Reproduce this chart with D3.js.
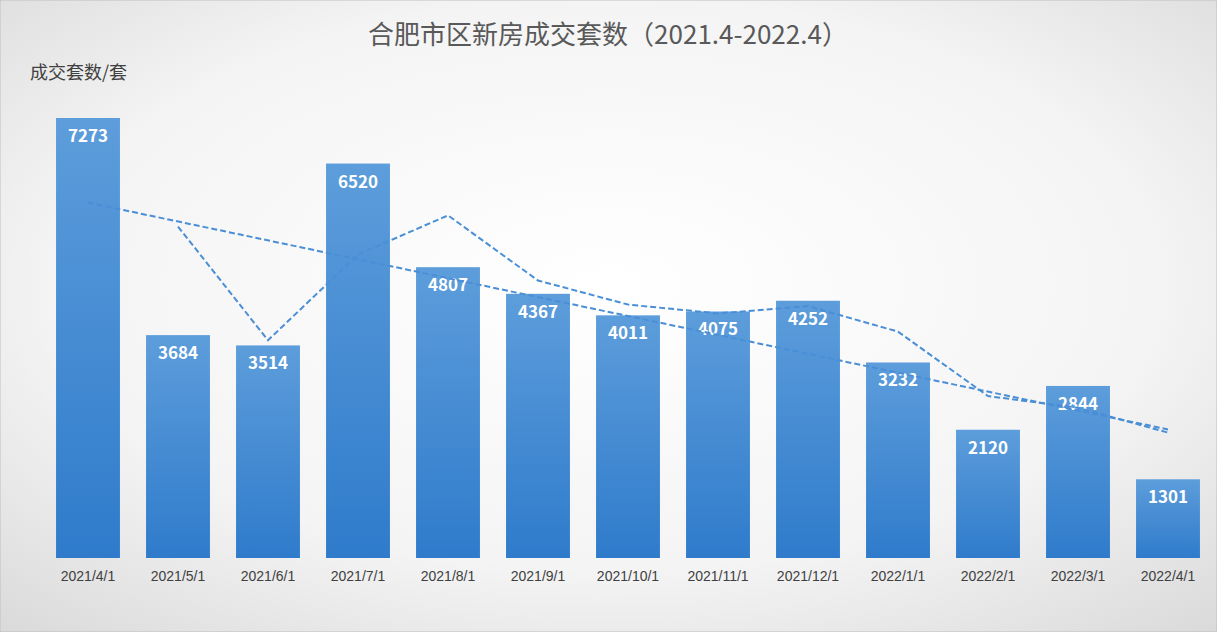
<!DOCTYPE html>
<html><head><meta charset="utf-8">
<script src="https://cdn.jsdelivr.net/npm/d3@7"></script>
<style>body{margin:0;}svg{display:block;font-family:"Noto Sans CJK SC","Noto Sans",sans-serif;}</style>
</head><body><svg id="c" width="1217" height="632"></svg>
<script>
var months = ["2021/4/1","2021/5/1","2021/6/1","2021/7/1","2021/8/1","2021/9/1","2021/10/1","2021/11/1","2021/12/1","2022/1/1","2022/2/1","2022/3/1","2022/4/1"];
var deals = [7273,3684,3514,6520,4807,4367,4011,4075,4252,3232,2120,2844,1301];

var svg = d3.select("#c");
var defs = svg.append("defs");
var bg = defs.append("radialGradient").attr("id","bg").attr("cx","50%").attr("cy","45%").attr("r","75%");
bg.append("stop").attr("offset","0%").attr("stop-color","#ffffff");
bg.append("stop").attr("offset","60%").attr("stop-color","#f4f4f4");
bg.append("stop").attr("offset","100%").attr("stop-color","#d9d9d9");
var bar = defs.append("linearGradient").attr("id","bar").attr("x1",0).attr("y1",0).attr("x2",0).attr("y2",1);
bar.append("stop").attr("offset","0%").attr("stop-color","#5d9ddb");
bar.append("stop").attr("offset","100%").attr("stop-color","#2f7bcb");

svg.append("rect").attr("width",1217).attr("height",632).attr("fill","url(#bg)").attr("stroke","#bfbfbf");

var x = d3.scaleBand().domain(months).range([43,1213]).paddingInner(0.29).paddingOuter(0.145);
var y = d3.scaleLinear().domain([0,7273]).range([558,118]);

svg.append("text").attr("x",608).attr("y",44).attr("text-anchor","middle").attr("font-size",26).attr("fill","#595959").text("合肥市区新房成交套数（2021.4-2022.4）");
svg.append("text").attr("x",30).attr("y",79).attr("font-size",18).attr("fill","#404040").text("成交套数/套");

svg.selectAll("rect.b").data(deals).enter().append("rect").attr("class","b")
  .attr("x",function(d,i){return x(months[i]);}).attr("width",x.bandwidth())
  .attr("y",function(d){return y(d);}).attr("height",function(d){return y(0)-y(d);})
  .attr("fill","url(#bar)");

svg.selectAll("text.v").data(deals).enter().append("text").attr("class","v")
  .attr("x",function(d,i){return x(months[i])+x.bandwidth()/2;}).attr("y",function(d){return y(d)+24;})
  .attr("text-anchor","middle").attr("font-size",17).attr("font-weight","bold").attr("fill","#fff").text(function(d){return d;});

var xa = svg.append("g").attr("transform","translate(0,558)").call(d3.axisBottom(x).tickSize(0).tickPadding(13));
xa.select(".domain").remove();
xa.selectAll("text").attr("font-size",14).attr("fill","#404040").attr("font-family","Liberation Sans, Arial, sans-serif");

var cx = function(i){return x(months[i])+x.bandwidth()/2;};
// 2-period moving average
var ma = deals.map(function(d,i){return i? [i,(d+deals[i-1])/2] : null;}).filter(Boolean);
svg.append("path").datum(ma).attr("fill","none").attr("stroke","#4a8fd6").attr("stroke-width",2).attr("stroke-dasharray","6,3")
  .attr("d",d3.line().x(function(p){return cx(p[0]);}).y(function(p){return y(p[1]);}));
// linear trend
var n = deals.length, mx=(n-1)/2, my=d3.mean(deals), sxy=0, sxx=0;
deals.forEach(function(d,i){sxy+=(i-mx)*(d-my);sxx+=(i-mx)*(i-mx);});
var k=sxy/sxx, b0=my-k*mx;
svg.append("path").datum([0,n-1]).attr("fill","none").attr("stroke","#4a8fd6").attr("stroke-width",2).attr("stroke-dasharray","6,3")
  .attr("d",d3.line().x(function(i){return cx(i);}).y(function(i){return y(b0+k*i);}));
</script></body></html>
